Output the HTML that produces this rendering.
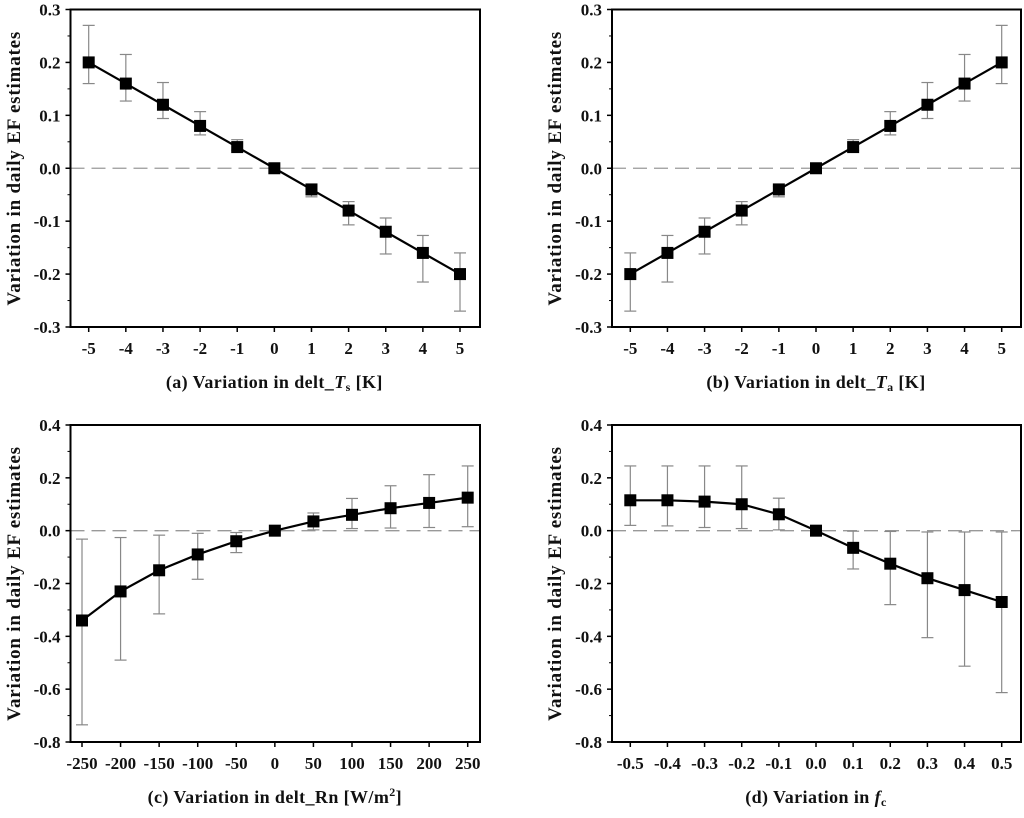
<!DOCTYPE html>
<html><head><meta charset="utf-8"><style>
body{margin:0;background:#fff;}
svg text{font-family:"Liberation Serif",serif;font-weight:bold;fill:#111;}
</style></head><body>
<svg id="s" width="1024" height="813" xmlns="http://www.w3.org/2000/svg"></svg>
<script>
const xA=[-5,-4,-3,-2,-1,0,1,2,3,4,5];
const yA=[0.2,0.16,0.12,0.08,0.04,0,-0.04,-0.08,-0.12,-0.16,-0.2];
const hiA=[0.27,0.215,0.162,0.107,0.054,0,-0.034,-0.063,-0.094,-0.127,-0.16];
const loA=[0.16,0.127,0.094,0.063,0.034,0,-0.054,-0.107,-0.162,-0.215,-0.27];
const xB=[-5,-4,-3,-2,-1,0,1,2,3,4,5];
const yB=[-0.2,-0.16,-0.12,-0.08,-0.04,0,0.04,0.08,0.12,0.16,0.2];
const hiB=[-0.16,-0.127,-0.094,-0.063,-0.034,0,0.054,0.107,0.162,0.215,0.27];
const loB=[-0.27,-0.215,-0.162,-0.107,-0.054,0,0.034,0.063,0.094,0.127,0.16];
const xC=[-250,-200,-150,-100,-50,0,50,100,150,200,250];
const yC=[-0.34,-0.23,-0.15,-0.09,-0.04,0,0.035,0.06,0.085,0.105,0.125];
const hiC=[-0.032,-0.026,-0.017,-0.01,-0.007,0,0.067,0.122,0.17,0.212,0.245];
const loC=[-0.735,-0.49,-0.315,-0.184,-0.083,0,0.003,0.008,0.01,0.012,0.015];
const xD=[-0.5,-0.4,-0.3,-0.2,-0.1,0,0.1,0.2,0.3,0.4,0.5];
const yD=[0.115,0.115,0.11,0.1,0.062,0,-0.065,-0.125,-0.18,-0.225,-0.27];
const hiD=[0.245,0.245,0.245,0.245,0.123,0,-0.002,-0.003,-0.005,-0.005,-0.005];
const loD=[0.02,0.018,0.012,0.008,0.003,0,-0.145,-0.28,-0.405,-0.513,-0.613];
const yTicksAB=[0.3,0.2,0.1,0.0,-0.1,-0.2,-0.3];
const yTicksCD=[0.4,0.2,0.0,-0.2,-0.4,-0.6,-0.8];
const xLabA=["-5","-4","-3","-2","-1","0","1","2","3","4","5"];
const xLabC=["-250","-200","-150","-100","-50","0","50","100","150","200","250"];
const xLabD=["-0.5","-0.4","-0.3","-0.2","-0.1","0.0","0.1","0.2","0.3","0.4","0.5"];

const svg=document.getElementById('s');
const NS='http://www.w3.org/2000/svg';
function mk(tag,attrs,parent){const e=document.createElementNS(NS,tag);for(const k in attrs)e.setAttribute(k,attrs[k]);(parent||svg).appendChild(e);return e;}

function panel(id,L,R,T,B,ymax,ymin,x0pix,x1pix,xs,ys,his,los,yt,xl,xlabelHTML,ylabX){
  const g=mk('g',{});
  
  
  const xmin=xs[0],xmax=xs[xs.length-1];
  const X=v=>x0pix+(v-xmin)/(xmax-xmin)*(x1pix-x0pix);
  const Y=v=>T+(ymax-v)/(ymax-ymin)*(B-T);
  const z=mk('line',{x1:L,x2:R,y1:Y(0),y2:Y(0),stroke:'#999','stroke-width':1.3,'stroke-dasharray':'14,7'},g);
  
  
  const step=yt[0]-yt[1];
  yt.forEach((v,i)=>{
    mk('line',{x1:L-5,x2:L,y1:Y(v),y2:Y(v),stroke:'#000','stroke-width':1.5},g);
    const t=mk('text',{x:L-10,y:Y(v)+6,'text-anchor':'end','font-size':17},g);
    t.textContent=v.toFixed(1);
    
    
    if(i<yt.length-1)mk('line',{x1:L-3,x2:L,y1:Y(v-step/2),y2:Y(v-step/2),stroke:'#000','stroke-width':1},g);
  });
  xs.forEach((v,i)=>{
    mk('line',{x1:X(v),x2:X(v),y1:B,y2:B+5,stroke:'#000','stroke-width':1.5},g);
    const t=mk('text',{x:X(v),y:B+27,'text-anchor':'middle','font-size':17},g);
    t.textContent=xl[i];
    
    
  });
  xs.forEach((v,i)=>{
    if(his[i]===los[i])return;
    const x=X(v);
    const e=mk('g',{stroke:'#888','stroke-width':1.2},g);
    
    
    mk('line',{x1:x,x2:x,y1:Y(his[i]),y2:Y(los[i])},e);
    mk('line',{x1:x-6,x2:x+6,y1:Y(his[i]),y2:Y(his[i])},e);
    mk('line',{x1:x-6,x2:x+6,y1:Y(los[i]),y2:Y(los[i])},e);
  });
  const pl=mk('polyline',{points:xs.map((v,i)=>X(v)+','+Y(ys[i])).join(' '),fill:'none',stroke:'#000','stroke-width':2.2},g);
  
  
  xs.forEach((v,i)=>{
    const r=mk('rect',{x:X(v)-6,y:Y(ys[i])-6,width:12,height:12,fill:'#000'},g);
    
    
  });
  const f=mk('rect',{x:L,y:T,width:R-L,height:B-T,fill:'none',stroke:'#000','stroke-width':2},g);
  
  
  const yl=mk('text',{x:0,y:0,'text-anchor':'middle','font-size':19,'letter-spacing':'0.8',transform:`translate(${ylabX},${(T+B)/2}) rotate(-90)`},g);
  yl.textContent='Variation in daily EF estimates';
  
  
  const xt=mk('text',{x:(x0pix+x1pix)/2,y:B+61,'text-anchor':'middle','font-size':18,'letter-spacing':'0.4'},g);
  xt.innerHTML=xlabelHTML;
  
  
}
panel('a',70.5,480,9.5,327,0.3,-0.3,88.7,460,xA,yA,hiA,loA,yTicksAB,xLabA,'(a) Variation in delt_<tspan font-style="italic">T</tspan><tspan font-size="12" dy="3">s</tspan><tspan dy="-3"> [K]</tspan>',20);
panel('b',612,1021,9.5,327,0.3,-0.3,630.3,1001.7,xB,yB,hiB,loB,yTicksAB,xLabA,'(b) Variation in delt_<tspan font-style="italic">T</tspan><tspan font-size="12" dy="3">a</tspan><tspan dy="-3"> [K]</tspan>',561);
panel('c',70.5,480,425,742,0.4,-0.8,82,467.7,xC,yC,hiC,loC,yTicksCD,xLabC,'(c) Variation in delt_Rn [W/m<tspan font-size="12" dy="-7">2</tspan><tspan dy="7">]</tspan>',20);
panel('d',612,1021,425,742,0.4,-0.8,630.3,1001.7,xD,yD,hiD,loD,yTicksCD,xLabD,'(d) Variation in <tspan font-style="italic">f</tspan><tspan font-size="12" dy="3">c</tspan>',561);
</script>
</body></html>
